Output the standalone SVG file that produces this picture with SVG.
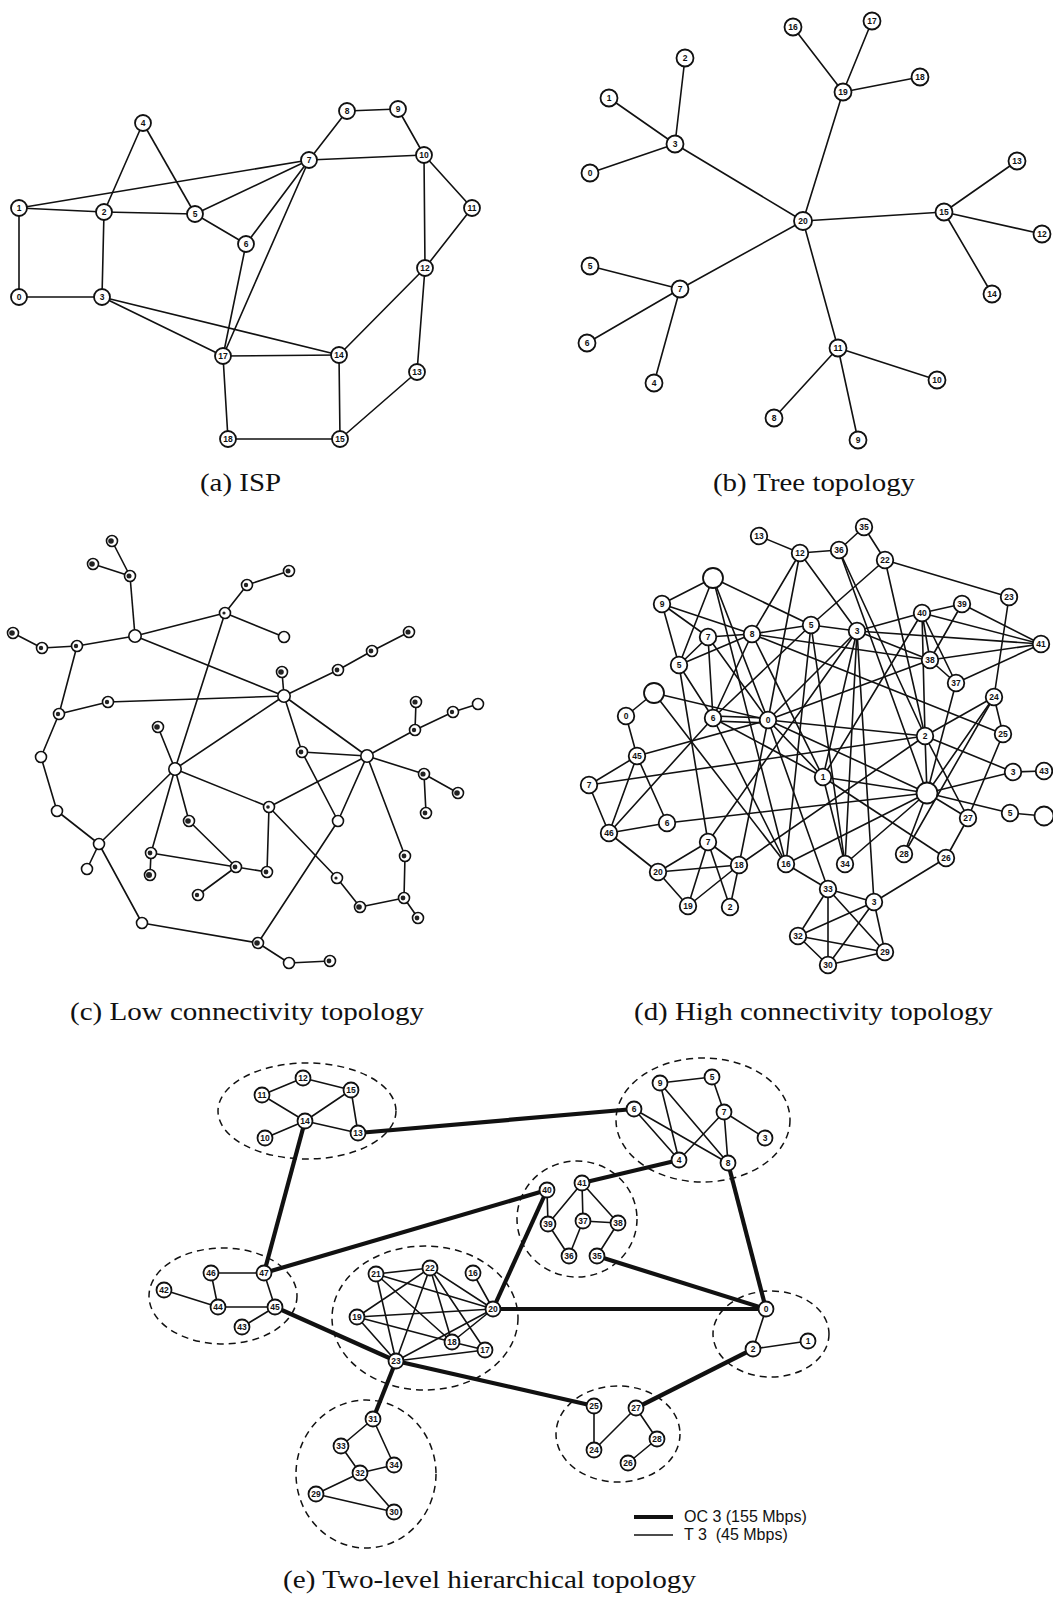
<svg xmlns="http://www.w3.org/2000/svg" width="1053" height="1597" viewBox="0 0 1053 1597">
<style>
  .bg { fill:#fff; }
  .e line { stroke:#111; stroke-width:1.6; stroke-linecap:round; }
  .E line { stroke:#111; stroke-width:4.2; stroke-linecap:butt; }
  .n circle { fill:#fff; stroke:#111; stroke-width:1.8; }
  .n text { font-family:"Liberation Sans", Arial, sans-serif; font-size:8.5px; font-weight:bold; text-anchor:middle; fill:#111; }
  .s circle { fill:#fff; stroke:#111; stroke-width:1.6; }
  .s circle.blot { fill:#222; stroke:none; }
  .grp { fill:none; stroke:#111; stroke-width:1.5; stroke-dasharray:7 5; }
  .cap { font-family:"Liberation Serif", "Times New Roman", serif; font-size:26px; fill:#111; }
  .leg { font-family:"Liberation Sans", Arial, sans-serif; font-size:16px; fill:#111; }
</style>
<rect class="bg" x="0" y="0" width="1053" height="1597"/>

<!-- ===== (a) ISP ===== -->
<g id="a-edges" class="e">
  <line x1="143" y1="123" x2="104" y2="212"/>
  <line x1="143" y1="123" x2="195" y2="214"/>
  <line x1="347" y1="111" x2="398" y2="109"/>
  <line x1="347" y1="111" x2="309" y2="160"/>
  <line x1="398" y1="109" x2="424" y2="155"/>
  <line x1="309" y1="160" x2="424" y2="155"/>
  <line x1="309" y1="160" x2="19" y2="208"/>
  <line x1="309" y1="160" x2="195" y2="214"/>
  <line x1="309" y1="160" x2="246" y2="244"/>
  <line x1="309" y1="160" x2="223" y2="356"/>
  <line x1="19" y1="208" x2="104" y2="212"/>
  <line x1="19" y1="208" x2="19" y2="297"/>
  <line x1="104" y1="212" x2="195" y2="214"/>
  <line x1="104" y1="212" x2="102" y2="297"/>
  <line x1="195" y1="214" x2="246" y2="244"/>
  <line x1="246" y1="244" x2="223" y2="356"/>
  <line x1="424" y1="155" x2="425" y2="268"/>
  <line x1="424" y1="155" x2="472" y2="208"/>
  <line x1="472" y1="208" x2="425" y2="268"/>
  <line x1="425" y1="268" x2="339" y2="355"/>
  <line x1="425" y1="268" x2="417" y2="372"/>
  <line x1="19" y1="297" x2="102" y2="297"/>
  <line x1="102" y1="297" x2="223" y2="356"/>
  <line x1="102" y1="297" x2="339" y2="355"/>
  <line x1="223" y1="356" x2="339" y2="355"/>
  <line x1="223" y1="356" x2="228" y2="439"/>
  <line x1="339" y1="355" x2="340" y2="439"/>
  <line x1="417" y1="372" x2="340" y2="439"/>
  <line x1="228" y1="439" x2="340" y2="439"/>
</g>
<g id="a-nodes">
  <g id="a0" class="n"><circle cx="19" cy="297" r="8"/><text x="19" y="300">0</text></g>
  <g id="a1" class="n"><circle cx="19" cy="208" r="8"/><text x="19" y="211">1</text></g>
  <g id="a2" class="n"><circle cx="104" cy="212" r="8"/><text x="104" y="215">2</text></g>
  <g id="a3" class="n"><circle cx="102" cy="297" r="8"/><text x="102" y="300">3</text></g>
  <g id="a4" class="n"><circle cx="143" cy="123" r="8"/><text x="143" y="126">4</text></g>
  <g id="a5" class="n"><circle cx="195" cy="214" r="8"/><text x="195" y="217">5</text></g>
  <g id="a6" class="n"><circle cx="246" cy="244" r="8"/><text x="246" y="247">6</text></g>
  <g id="a7" class="n"><circle cx="309" cy="160" r="8"/><text x="309" y="163">7</text></g>
  <g id="a8" class="n"><circle cx="347" cy="111" r="8"/><text x="347" y="114">8</text></g>
  <g id="a9" class="n"><circle cx="398" cy="109" r="8"/><text x="398" y="112">9</text></g>
  <g id="a10" class="n"><circle cx="424" cy="155" r="8"/><text x="424" y="158">10</text></g>
  <g id="a11" class="n"><circle cx="472" cy="208" r="8"/><text x="472" y="211">11</text></g>
  <g id="a12" class="n"><circle cx="425" cy="268" r="8"/><text x="425" y="271">12</text></g>
  <g id="a13" class="n"><circle cx="417" cy="372" r="8"/><text x="417" y="375">13</text></g>
  <g id="a14" class="n"><circle cx="339" cy="355" r="8"/><text x="339" y="358">14</text></g>
  <g id="a15" class="n"><circle cx="340" cy="439" r="8"/><text x="340" y="442">15</text></g>
  <g id="a17" class="n"><circle cx="223" cy="356" r="8"/><text x="223" y="359">17</text></g>
  <g id="a18" class="n"><circle cx="228" cy="439" r="8"/><text x="228" y="442">18</text></g>
</g>
<text class="cap" x="200" y="491" textLength="81" lengthAdjust="spacingAndGlyphs">(a) ISP</text>

<!-- ===== (b) Tree topology ===== -->
<g id="b-edges" class="e">
  <line x1="675" y1="144" x2="590" y2="173"/>
  <line x1="675" y1="144" x2="609" y2="98"/>
  <line x1="675" y1="144" x2="685" y2="58"/>
  <line x1="675" y1="144" x2="803" y2="221"/>
  <line x1="843" y1="92" x2="793" y2="27"/>
  <line x1="843" y1="92" x2="872" y2="21"/>
  <line x1="843" y1="92" x2="920" y2="77"/>
  <line x1="843" y1="92" x2="803" y2="221"/>
  <line x1="944" y1="212" x2="1017" y2="161"/>
  <line x1="944" y1="212" x2="1042" y2="234"/>
  <line x1="944" y1="212" x2="992" y2="294"/>
  <line x1="944" y1="212" x2="803" y2="221"/>
  <line x1="680" y1="289" x2="590" y2="266"/>
  <line x1="680" y1="289" x2="587" y2="343"/>
  <line x1="680" y1="289" x2="654" y2="383"/>
  <line x1="680" y1="289" x2="803" y2="221"/>
  <line x1="838" y1="348" x2="937" y2="380"/>
  <line x1="838" y1="348" x2="774" y2="418"/>
  <line x1="838" y1="348" x2="858" y2="440"/>
  <line x1="838" y1="348" x2="803" y2="221"/>
</g>
<g id="b-nodes">
  <g id="b0" class="n"><circle cx="590" cy="173" r="8.5"/><text x="590" y="176">0</text></g>
  <g id="b1" class="n"><circle cx="609" cy="98" r="8.5"/><text x="609" y="101">1</text></g>
  <g id="b2" class="n"><circle cx="685" cy="58" r="8.5"/><text x="685" y="61">2</text></g>
  <g id="b3" class="n"><circle cx="675" cy="144" r="8.5"/><text x="675" y="147">3</text></g>
  <g id="b4" class="n"><circle cx="654" cy="383" r="8.5"/><text x="654" y="386">4</text></g>
  <g id="b5" class="n"><circle cx="590" cy="266" r="8.5"/><text x="590" y="269">5</text></g>
  <g id="b6" class="n"><circle cx="587" cy="343" r="8.5"/><text x="587" y="346">6</text></g>
  <g id="b7" class="n"><circle cx="680" cy="289" r="8.5"/><text x="680" y="292">7</text></g>
  <g id="b8" class="n"><circle cx="774" cy="418" r="8.5"/><text x="774" y="421">8</text></g>
  <g id="b9" class="n"><circle cx="858" cy="440" r="8.5"/><text x="858" y="443">9</text></g>
  <g id="b10" class="n"><circle cx="937" cy="380" r="8.5"/><text x="937" y="383">10</text></g>
  <g id="b11" class="n"><circle cx="838" cy="348" r="8.5"/><text x="838" y="351">11</text></g>
  <g id="b12" class="n"><circle cx="1042" cy="234" r="8.5"/><text x="1042" y="237">12</text></g>
  <g id="b13" class="n"><circle cx="1017" cy="161" r="8.5"/><text x="1017" y="164">13</text></g>
  <g id="b14" class="n"><circle cx="992" cy="294" r="8.5"/><text x="992" y="297">14</text></g>
  <g id="b15" class="n"><circle cx="944" cy="212" r="8.5"/><text x="944" y="215">15</text></g>
  <g id="b16" class="n"><circle cx="793" cy="27" r="8.5"/><text x="793" y="30">16</text></g>
  <g id="b17" class="n"><circle cx="872" cy="21" r="8.5"/><text x="872" y="24">17</text></g>
  <g id="b18" class="n"><circle cx="920" cy="77" r="8.5"/><text x="920" y="80">18</text></g>
  <g id="b19" class="n"><circle cx="843" cy="92" r="8.5"/><text x="843" y="95">19</text></g>
  <g id="b20" class="n"><circle cx="803" cy="221" r="9"/><text x="803" y="224">20</text></g>
</g>
<text class="cap" x="713" y="491" textLength="202" lengthAdjust="spacingAndGlyphs">(b) Tree topology</text>

<!-- ===== (c) Low connectivity topology ===== -->
<g id="c-edges" class="e">
  <line x1="112" y1="541" x2="130" y2="576"/>
  <line x1="93" y1="564" x2="130" y2="576"/>
  <line x1="130" y1="576" x2="135" y2="636"/>
  <line x1="135" y1="636" x2="225" y2="613"/>
  <line x1="135" y1="636" x2="77" y2="646"/>
  <line x1="135" y1="636" x2="284" y2="696"/>
  <line x1="225" y1="613" x2="247" y2="585"/>
  <line x1="247" y1="585" x2="289" y2="571"/>
  <line x1="225" y1="613" x2="284" y2="637"/>
  <line x1="225" y1="613" x2="175" y2="769"/>
  <line x1="13" y1="633" x2="42" y2="648"/>
  <line x1="42" y1="648" x2="77" y2="646"/>
  <line x1="77" y1="646" x2="59" y2="714"/>
  <line x1="59" y1="714" x2="108" y2="702"/>
  <line x1="108" y1="702" x2="284" y2="696"/>
  <line x1="284" y1="696" x2="282" y2="672"/>
  <line x1="284" y1="696" x2="338" y2="670"/>
  <line x1="338" y1="670" x2="372" y2="651"/>
  <line x1="372" y1="651" x2="409" y2="632"/>
  <line x1="284" y1="696" x2="175" y2="769"/>
  <line x1="284" y1="696" x2="302" y2="752"/>
  <line x1="284" y1="696" x2="367" y2="756"/>
  <line x1="59" y1="714" x2="41" y2="757"/>
  <line x1="41" y1="757" x2="57" y2="811"/>
  <line x1="57" y1="811" x2="99" y2="844"/>
  <line x1="99" y1="844" x2="175" y2="769"/>
  <line x1="99" y1="844" x2="87" y2="869"/>
  <line x1="99" y1="844" x2="142" y2="923"/>
  <line x1="142" y1="923" x2="258" y2="943"/>
  <line x1="258" y1="943" x2="289" y2="963"/>
  <line x1="289" y1="963" x2="330" y2="961"/>
  <line x1="175" y1="769" x2="158" y2="727"/>
  <line x1="175" y1="769" x2="189" y2="821"/>
  <line x1="175" y1="769" x2="151" y2="853"/>
  <line x1="151" y1="853" x2="150" y2="875"/>
  <line x1="175" y1="769" x2="269" y2="807"/>
  <line x1="189" y1="821" x2="236" y2="867"/>
  <line x1="151" y1="853" x2="236" y2="867"/>
  <line x1="236" y1="867" x2="198" y2="895"/>
  <line x1="236" y1="867" x2="267" y2="872"/>
  <line x1="269" y1="807" x2="267" y2="872"/>
  <line x1="269" y1="807" x2="367" y2="756"/>
  <line x1="269" y1="807" x2="337" y2="878"/>
  <line x1="337" y1="878" x2="360" y2="907"/>
  <line x1="360" y1="907" x2="404" y2="898"/>
  <line x1="404" y1="898" x2="405" y2="856"/>
  <line x1="405" y1="856" x2="367" y2="756"/>
  <line x1="404" y1="898" x2="418" y2="918"/>
  <line x1="302" y1="752" x2="367" y2="756"/>
  <line x1="302" y1="752" x2="338" y2="821"/>
  <line x1="338" y1="821" x2="367" y2="756"/>
  <line x1="338" y1="821" x2="258" y2="943"/>
  <line x1="367" y1="756" x2="415" y2="730"/>
  <line x1="415" y1="730" x2="416" y2="702"/>
  <line x1="415" y1="730" x2="453" y2="712"/>
  <line x1="453" y1="712" x2="478" y2="704"/>
  <line x1="367" y1="756" x2="424" y2="774"/>
  <line x1="424" y1="774" x2="458" y2="793"/>
  <line x1="424" y1="774" x2="426" y2="813"/>
</g>
<g id="c-nodes">
  <g id="c1" class="s"><circle cx="112" cy="541" r="5.5"/><circle class="blot" cx="111" cy="541" r="2.8"/></g>
  <g id="c2" class="s"><circle cx="93" cy="564" r="5.5"/><circle class="blot" cx="92" cy="564" r="2.8"/></g>
  <g id="c3" class="s"><circle cx="130" cy="576" r="5.5"/><circle class="blot" cx="129" cy="576" r="2.5"/></g>
  <g id="c4" class="s"><circle cx="289" cy="571" r="5.5"/><circle class="blot" cx="288" cy="571" r="2.5"/></g>
  <g id="c5" class="s"><circle cx="247" cy="585" r="5.5"/><circle class="blot" cx="246" cy="585" r="2.2"/></g>
  <g id="c6" class="s"><circle cx="225" cy="613" r="5.5"/><circle class="blot" cx="224" cy="613" r="1.6"/></g>
  <g id="c7" class="s"><circle cx="135" cy="636" r="6.2"/></g>
  <g id="c8" class="s"><circle cx="284" cy="637" r="5.5"/></g>
  <g id="c9" class="s"><circle cx="13" cy="633" r="5.5"/><circle class="blot" cx="12" cy="633" r="2.8"/></g>
  <g id="c10" class="s"><circle cx="42" cy="648" r="5.5"/><circle class="blot" cx="41" cy="648" r="2.2"/></g>
  <g id="c11" class="s"><circle cx="77" cy="646" r="5.5"/><circle class="blot" cx="76" cy="646" r="2.2"/></g>
  <g id="c12" class="s"><circle cx="409" cy="632" r="5.5"/><circle class="blot" cx="408" cy="632" r="2.6"/></g>
  <g id="c13" class="s"><circle cx="372" cy="651" r="5.5"/><circle class="blot" cx="371" cy="651" r="2.4"/></g>
  <g id="c14" class="s"><circle cx="338" cy="670" r="5.5"/><circle class="blot" cx="337" cy="670" r="2.4"/></g>
  <g id="c15" class="s"><circle cx="282" cy="672" r="5.5"/><circle class="blot" cx="281" cy="672" r="2.8"/></g>
  <g id="c16" class="s"><circle cx="284" cy="696" r="6.2"/></g>
  <g id="c17" class="s"><circle cx="108" cy="702" r="5.5"/><circle class="blot" cx="107" cy="702" r="2.2"/></g>
  <g id="c18" class="s"><circle cx="59" cy="714" r="5.5"/><circle class="blot" cx="58" cy="714" r="2.2"/></g>
  <g id="c19" class="s"><circle cx="416" cy="702" r="5.5"/><circle class="blot" cx="415" cy="702" r="2.6"/></g>
  <g id="c20" class="s"><circle cx="478" cy="704" r="5.5"/></g>
  <g id="c21" class="s"><circle cx="453" cy="712" r="5.5"/><circle class="blot" cx="452" cy="712" r="2.2"/></g>
  <g id="c22" class="s"><circle cx="415" cy="730" r="5.5"/><circle class="blot" cx="414" cy="730" r="2.2"/></g>
  <g id="c23" class="s"><circle cx="158" cy="727" r="5.5"/><circle class="blot" cx="157" cy="727" r="2.8"/></g>
  <g id="c24" class="s"><circle cx="302" cy="752" r="5.5"/><circle class="blot" cx="301" cy="752" r="2.4"/></g>
  <g id="c25" class="s"><circle cx="367" cy="756" r="6.2"/></g>
  <g id="c26" class="s"><circle cx="41" cy="757" r="5.5"/></g>
  <g id="c27" class="s"><circle cx="175" cy="769" r="6.2"/></g>
  <g id="c28" class="s"><circle cx="424" cy="774" r="5.5"/><circle class="blot" cx="423" cy="774" r="2.6"/></g>
  <g id="c29" class="s"><circle cx="458" cy="793" r="5.5"/><circle class="blot" cx="457" cy="793" r="2.8"/></g>
  <g id="c30" class="s"><circle cx="269" cy="807" r="5.5"/><circle class="blot" cx="268" cy="807" r="1.8"/></g>
  <g id="c31" class="s"><circle cx="57" cy="811" r="5.5"/></g>
  <g id="c32" class="s"><circle cx="426" cy="813" r="5.5"/><circle class="blot" cx="425" cy="813" r="2.4"/></g>
  <g id="c33" class="s"><circle cx="338" cy="821" r="5.5"/></g>
  <g id="c34" class="s"><circle cx="189" cy="821" r="5.5"/><circle class="blot" cx="188" cy="821" r="2.8"/></g>
  <g id="c35" class="s"><circle cx="99" cy="844" r="5.5"/></g>
  <g id="c36" class="s"><circle cx="151" cy="853" r="5.5"/><circle class="blot" cx="150" cy="853" r="2.4"/></g>
  <g id="c37" class="s"><circle cx="405" cy="856" r="5.5"/><circle class="blot" cx="404" cy="856" r="2.4"/></g>
  <g id="c38" class="s"><circle cx="87" cy="869" r="5.5"/></g>
  <g id="c39" class="s"><circle cx="236" cy="867" r="5.5"/><circle class="blot" cx="235" cy="867" r="2.4"/></g>
  <g id="c40" class="s"><circle cx="267" cy="872" r="5.5"/><circle class="blot" cx="266" cy="872" r="2.4"/></g>
  <g id="c41" class="s"><circle cx="150" cy="875" r="5.5"/><circle class="blot" cx="149" cy="875" r="3"/></g>
  <g id="c42" class="s"><circle cx="337" cy="878" r="5.5"/><circle class="blot" cx="336" cy="878" r="1.6"/></g>
  <g id="c43" class="s"><circle cx="198" cy="895" r="5.5"/><circle class="blot" cx="197" cy="895" r="2.2"/></g>
  <g id="c44" class="s"><circle cx="404" cy="898" r="5.5"/><circle class="blot" cx="403" cy="898" r="2.4"/></g>
  <g id="c45" class="s"><circle cx="360" cy="907" r="5.5"/><circle class="blot" cx="359" cy="907" r="2.8"/></g>
  <g id="c46" class="s"><circle cx="418" cy="918" r="5.5"/><circle class="blot" cx="417" cy="918" r="2.4"/></g>
  <g id="c47" class="s"><circle cx="142" cy="923" r="5.5"/></g>
  <g id="c48" class="s"><circle cx="258" cy="943" r="5.5"/><circle class="blot" cx="257" cy="943" r="2.8"/></g>
  <g id="c49" class="s"><circle cx="289" cy="963" r="5.5"/></g>
  <g id="c50" class="s"><circle cx="330" cy="961" r="5.5"/><circle class="blot" cx="329" cy="961" r="2.4"/></g>
</g>
<text class="cap" x="70" y="1020" textLength="354" lengthAdjust="spacingAndGlyphs">(c) Low connectivity topology</text>

<!-- ===== (d) High connectivity topology ===== -->
<g id="d-edges" class="e">
  <line x1="759" y1="536" x2="800" y2="553"/>
  <line x1="800" y1="553" x2="839" y2="550"/>
  <line x1="839" y1="550" x2="864" y2="527"/>
  <line x1="864" y1="527" x2="885" y2="560"/>
  <line x1="800" y1="553" x2="752" y2="634"/>
  <line x1="800" y1="553" x2="768" y2="720"/>
  <line x1="800" y1="553" x2="857" y2="631"/>
  <line x1="839" y1="550" x2="925" y2="736"/>
  <line x1="839" y1="550" x2="927" y2="793"/>
  <line x1="885" y1="560" x2="811" y2="625"/>
  <line x1="885" y1="560" x2="1009" y2="597"/>
  <line x1="885" y1="560" x2="925" y2="736"/>
  <line x1="713" y1="578" x2="662" y2="604"/>
  <line x1="713" y1="578" x2="811" y2="625"/>
  <line x1="713" y1="578" x2="679" y2="665"/>
  <line x1="713" y1="578" x2="768" y2="720"/>
  <line x1="713" y1="578" x2="786" y2="864"/>
  <line x1="662" y1="604" x2="679" y2="665"/>
  <line x1="662" y1="604" x2="752" y2="634"/>
  <line x1="662" y1="604" x2="708" y2="637"/>
  <line x1="708" y1="637" x2="752" y2="634"/>
  <line x1="679" y1="665" x2="752" y2="634"/>
  <line x1="679" y1="665" x2="708" y2="637"/>
  <line x1="752" y1="634" x2="811" y2="625"/>
  <line x1="811" y1="625" x2="857" y2="631"/>
  <line x1="752" y1="634" x2="930" y2="660"/>
  <line x1="752" y1="634" x2="1003" y2="734"/>
  <line x1="752" y1="634" x2="713" y2="718"/>
  <line x1="752" y1="634" x2="823" y2="777"/>
  <line x1="857" y1="631" x2="922" y2="613"/>
  <line x1="857" y1="631" x2="1041" y2="644"/>
  <line x1="857" y1="631" x2="930" y2="660"/>
  <line x1="922" y1="613" x2="962" y2="604"/>
  <line x1="922" y1="613" x2="1041" y2="644"/>
  <line x1="962" y1="604" x2="1041" y2="644"/>
  <line x1="922" y1="613" x2="930" y2="660"/>
  <line x1="922" y1="613" x2="956" y2="683"/>
  <line x1="962" y1="604" x2="930" y2="660"/>
  <line x1="930" y1="660" x2="1041" y2="644"/>
  <line x1="956" y1="683" x2="1041" y2="644"/>
  <line x1="930" y1="660" x2="956" y2="683"/>
  <line x1="922" y1="613" x2="823" y2="777"/>
  <line x1="922" y1="613" x2="925" y2="736"/>
  <line x1="930" y1="660" x2="768" y2="720"/>
  <line x1="1009" y1="597" x2="994" y2="697"/>
  <line x1="994" y1="697" x2="1003" y2="734"/>
  <line x1="994" y1="697" x2="925" y2="736"/>
  <line x1="994" y1="697" x2="927" y2="793"/>
  <line x1="994" y1="697" x2="904" y2="854"/>
  <line x1="956" y1="683" x2="927" y2="793"/>
  <line x1="626" y1="716" x2="654" y2="693"/>
  <line x1="654" y1="693" x2="768" y2="720"/>
  <line x1="654" y1="693" x2="786" y2="864"/>
  <line x1="679" y1="665" x2="708" y2="842"/>
  <line x1="679" y1="665" x2="713" y2="718"/>
  <line x1="708" y1="637" x2="713" y2="718"/>
  <line x1="708" y1="637" x2="768" y2="720"/>
  <line x1="713" y1="716" x2="768" y2="718"/>
  <line x1="713" y1="721" x2="768" y2="723"/>
  <line x1="713" y1="718" x2="811" y2="625"/>
  <line x1="768" y1="720" x2="857" y2="631"/>
  <line x1="768" y1="720" x2="925" y2="736"/>
  <line x1="768" y1="720" x2="823" y2="777"/>
  <line x1="626" y1="716" x2="637" y2="756"/>
  <line x1="637" y1="756" x2="589" y2="785"/>
  <line x1="637" y1="756" x2="609" y2="833"/>
  <line x1="637" y1="756" x2="667" y2="823"/>
  <line x1="637" y1="756" x2="768" y2="720"/>
  <line x1="589" y1="785" x2="609" y2="833"/>
  <line x1="589" y1="785" x2="925" y2="736"/>
  <line x1="609" y1="833" x2="667" y2="823"/>
  <line x1="609" y1="833" x2="658" y2="872"/>
  <line x1="609" y1="833" x2="713" y2="718"/>
  <line x1="667" y1="823" x2="927" y2="793"/>
  <line x1="708" y1="842" x2="658" y2="872"/>
  <line x1="708" y1="842" x2="739" y2="865"/>
  <line x1="708" y1="842" x2="688" y2="906"/>
  <line x1="708" y1="842" x2="730" y2="907"/>
  <line x1="708" y1="842" x2="857" y2="631"/>
  <line x1="658" y1="872" x2="739" y2="865"/>
  <line x1="658" y1="872" x2="688" y2="906"/>
  <line x1="739" y1="865" x2="688" y2="906"/>
  <line x1="739" y1="865" x2="730" y2="907"/>
  <line x1="739" y1="865" x2="925" y2="736"/>
  <line x1="739" y1="865" x2="768" y2="720"/>
  <line x1="786" y1="864" x2="828" y2="889"/>
  <line x1="786" y1="864" x2="927" y2="793"/>
  <line x1="786" y1="864" x2="811" y2="625"/>
  <line x1="828" y1="889" x2="874" y2="902"/>
  <line x1="828" y1="889" x2="798" y2="936"/>
  <line x1="828" y1="889" x2="828" y2="965"/>
  <line x1="828" y1="889" x2="885" y2="952"/>
  <line x1="828" y1="889" x2="768" y2="720"/>
  <line x1="874" y1="902" x2="798" y2="936"/>
  <line x1="874" y1="902" x2="828" y2="965"/>
  <line x1="874" y1="902" x2="885" y2="952"/>
  <line x1="874" y1="902" x2="946" y2="858"/>
  <line x1="874" y1="902" x2="857" y2="631"/>
  <line x1="798" y1="936" x2="885" y2="952"/>
  <line x1="798" y1="936" x2="828" y2="965"/>
  <line x1="828" y1="965" x2="885" y2="952"/>
  <line x1="845" y1="864" x2="823" y2="777"/>
  <line x1="845" y1="864" x2="857" y2="631"/>
  <line x1="845" y1="864" x2="927" y2="793"/>
  <line x1="823" y1="777" x2="927" y2="793"/>
  <line x1="823" y1="777" x2="946" y2="858"/>
  <line x1="904" y1="854" x2="927" y2="793"/>
  <line x1="946" y1="858" x2="968" y2="818"/>
  <line x1="968" y1="818" x2="927" y2="793"/>
  <line x1="968" y1="818" x2="1003" y2="734"/>
  <line x1="968" y1="818" x2="925" y2="736"/>
  <line x1="927" y1="793" x2="1013" y2="772"/>
  <line x1="927" y1="793" x2="1010" y2="813"/>
  <line x1="927" y1="793" x2="925" y2="736"/>
  <line x1="927" y1="793" x2="768" y2="720"/>
  <line x1="1013" y1="772" x2="1044" y2="771"/>
  <line x1="1010" y1="813" x2="1044" y2="816"/>
  <line x1="925" y1="736" x2="1013" y2="772"/>
  <line x1="713" y1="718" x2="823" y2="777"/>
  <line x1="713" y1="718" x2="786" y2="864"/>
  <line x1="811" y1="625" x2="845" y2="864"/>
  <line x1="857" y1="631" x2="823" y2="777"/>
</g>
<g id="d-nodes">
  <g id="d13" class="n"><circle cx="759" cy="536" r="8.3"/><text x="759" y="539">13</text></g>
  <g id="d12" class="n"><circle cx="800" cy="553" r="8.3"/><text x="800" y="556">12</text></g>
  <g id="d36" class="n"><circle cx="839" cy="550" r="8.3"/><text x="839" y="553">36</text></g>
  <g id="d35" class="n"><circle cx="864" cy="527" r="8.3"/><text x="864" y="530">35</text></g>
  <g id="d22" class="n"><circle cx="885" cy="560" r="8.3"/><text x="885" y="563">22</text></g>
  <g id="d-u1" class="n"><circle cx="713" cy="578" r="10"/></g>
  <g id="d9" class="n"><circle cx="662" cy="604" r="8.3"/><text x="662" y="607">9</text></g>
  <g id="d23" class="n"><circle cx="1009" cy="597" r="8.3"/><text x="1009" y="600">23</text></g>
  <g id="d40" class="n"><circle cx="922" cy="613" r="8.3"/><text x="922" y="616">40</text></g>
  <g id="d39" class="n"><circle cx="962" cy="604" r="8.3"/><text x="962" y="607">39</text></g>
  <g id="d5a" class="n"><circle cx="811" cy="625" r="8.3"/><text x="811" y="628">5</text></g>
  <g id="d3a" class="n"><circle cx="857" cy="631" r="8.3"/><text x="857" y="634">3</text></g>
  <g id="d7a" class="n"><circle cx="708" cy="637" r="8.3"/><text x="708" y="640">7</text></g>
  <g id="d8" class="n"><circle cx="752" cy="634" r="8.3"/><text x="752" y="637">8</text></g>
  <g id="d41" class="n"><circle cx="1041" cy="644" r="8.3"/><text x="1041" y="647">41</text></g>
  <g id="d38" class="n"><circle cx="930" cy="660" r="8.3"/><text x="930" y="663">38</text></g>
  <g id="d5b" class="n"><circle cx="679" cy="665" r="8.3"/><text x="679" y="668">5</text></g>
  <g id="d37" class="n"><circle cx="956" cy="683" r="8.3"/><text x="956" y="686">37</text></g>
  <g id="d24" class="n"><circle cx="994" cy="697" r="8.3"/><text x="994" y="700">24</text></g>
  <g id="d-u2" class="n"><circle cx="654" cy="693" r="10"/></g>
  <g id="d0a" class="n"><circle cx="626" cy="716" r="8.3"/><text x="626" y="719">0</text></g>
  <g id="d6a" class="n"><circle cx="713" cy="718" r="8.3"/><text x="713" y="721">6</text></g>
  <g id="d0b" class="n"><circle cx="768" cy="720" r="8.3"/><text x="768" y="723">0</text></g>
  <g id="d2a" class="n"><circle cx="925" cy="736" r="8.3"/><text x="925" y="739">2</text></g>
  <g id="d25" class="n"><circle cx="1003" cy="734" r="8.3"/><text x="1003" y="737">25</text></g>
  <g id="d45" class="n"><circle cx="637" cy="756" r="8.3"/><text x="637" y="759">45</text></g>
  <g id="d3b" class="n"><circle cx="1013" cy="772" r="8.3"/><text x="1013" y="775">3</text></g>
  <g id="d43" class="n"><circle cx="1044" cy="771" r="8.3"/><text x="1044" y="774">43</text></g>
  <g id="d1" class="n"><circle cx="823" cy="777" r="8.3"/><text x="823" y="780">1</text></g>
  <g id="d7b" class="n"><circle cx="589" cy="785" r="8.3"/><text x="589" y="788">7</text></g>
  <g id="d-u3" class="n"><circle cx="927" cy="793" r="10.5"/></g>
  <g id="d5c" class="n"><circle cx="1010" cy="813" r="8.3"/><text x="1010" y="816">5</text></g>
  <g id="d-u4" class="n"><circle cx="1044" cy="816" r="9.5"/></g>
  <g id="d27" class="n"><circle cx="968" cy="818" r="8.3"/><text x="968" y="821">27</text></g>
  <g id="d6b" class="n"><circle cx="667" cy="823" r="8.3"/><text x="667" y="826">6</text></g>
  <g id="d46" class="n"><circle cx="609" cy="833" r="8.3"/><text x="609" y="836">46</text></g>
  <g id="d7c" class="n"><circle cx="708" cy="842" r="8.3"/><text x="708" y="845">7</text></g>
  <g id="d28" class="n"><circle cx="904" cy="854" r="8.3"/><text x="904" y="857">28</text></g>
  <g id="d26" class="n"><circle cx="946" cy="858" r="8.3"/><text x="946" y="861">26</text></g>
  <g id="d34" class="n"><circle cx="845" cy="864" r="8.3"/><text x="845" y="867">34</text></g>
  <g id="d18" class="n"><circle cx="739" cy="865" r="8.3"/><text x="739" y="868">18</text></g>
  <g id="d16" class="n"><circle cx="786" cy="864" r="8.3"/><text x="786" y="867">16</text></g>
  <g id="d20" class="n"><circle cx="658" cy="872" r="8.3"/><text x="658" y="875">20</text></g>
  <g id="d33" class="n"><circle cx="828" cy="889" r="8.3"/><text x="828" y="892">33</text></g>
  <g id="d3c" class="n"><circle cx="874" cy="902" r="8.3"/><text x="874" y="905">3</text></g>
  <g id="d19" class="n"><circle cx="688" cy="906" r="8.3"/><text x="688" y="909">19</text></g>
  <g id="d2b" class="n"><circle cx="730" cy="907" r="8.3"/><text x="730" y="910">2</text></g>
  <g id="d32" class="n"><circle cx="798" cy="936" r="8.3"/><text x="798" y="939">32</text></g>
  <g id="d29" class="n"><circle cx="885" cy="952" r="8.3"/><text x="885" y="955">29</text></g>
  <g id="d30" class="n"><circle cx="828" cy="965" r="8.3"/><text x="828" y="968">30</text></g>
</g>
<text class="cap" x="634" y="1020" textLength="359" lengthAdjust="spacingAndGlyphs">(d) High connectivity topology</text>

<!-- ===== (e) Two-level hierarchical topology ===== -->
<g id="e-domains">
  <ellipse class="grp" cx="307" cy="1111" rx="89" ry="48"/>
  <ellipse class="grp" cx="223" cy="1296" rx="74" ry="48"/>
  <ellipse class="grp" cx="425" cy="1318" rx="93" ry="72"/>
  <ellipse class="grp" cx="577" cy="1219" rx="60" ry="58"/>
  <ellipse class="grp" cx="703" cy="1120" rx="87" ry="62"/>
  <ellipse class="grp" cx="771" cy="1334" rx="58" ry="43"/>
  <ellipse class="grp" cx="618" cy="1434" rx="62" ry="48"/>
  <ellipse class="grp" cx="366" cy="1474" rx="70" ry="74"/>
</g>
<g id="e-edges">
  <g class="e">
    <line x1="262" y1="1095" x2="303" y2="1078"/>
    <line x1="303" y1="1078" x2="351" y2="1090"/>
    <line x1="262" y1="1095" x2="305" y2="1121"/>
    <line x1="351" y1="1090" x2="305" y2="1121"/>
    <line x1="351" y1="1090" x2="358" y2="1133"/>
    <line x1="305" y1="1121" x2="265" y2="1138"/>
    <line x1="305" y1="1121" x2="358" y2="1133"/>
    <line x1="211" y1="1273" x2="264" y2="1273"/>
    <line x1="211" y1="1273" x2="218" y2="1307"/>
    <line x1="264" y1="1273" x2="275" y2="1307"/>
    <line x1="164" y1="1290" x2="218" y2="1307"/>
    <line x1="218" y1="1307" x2="275" y2="1307"/>
    <line x1="275" y1="1307" x2="242" y2="1327"/>
    <line x1="376" y1="1274" x2="430" y2="1268"/>
    <line x1="376" y1="1274" x2="493" y2="1309"/>
    <line x1="376" y1="1274" x2="452" y2="1342"/>
    <line x1="376" y1="1274" x2="396" y2="1361"/>
    <line x1="430" y1="1268" x2="357" y2="1317"/>
    <line x1="430" y1="1268" x2="493" y2="1309"/>
    <line x1="430" y1="1268" x2="396" y2="1361"/>
    <line x1="430" y1="1268" x2="452" y2="1342"/>
    <line x1="430" y1="1268" x2="485" y2="1350"/>
    <line x1="473" y1="1273" x2="493" y2="1309"/>
    <line x1="357" y1="1317" x2="493" y2="1309"/>
    <line x1="357" y1="1317" x2="452" y2="1342"/>
    <line x1="357" y1="1317" x2="396" y2="1361"/>
    <line x1="493" y1="1309" x2="452" y2="1342"/>
    <line x1="493" y1="1309" x2="396" y2="1361"/>
    <line x1="452" y1="1342" x2="485" y2="1350"/>
    <line x1="485" y1="1350" x2="396" y2="1361"/>
    <line x1="547" y1="1190" x2="548" y2="1224"/>
    <line x1="582" y1="1183" x2="548" y2="1224"/>
    <line x1="582" y1="1183" x2="583" y2="1221"/>
    <line x1="582" y1="1183" x2="618" y2="1223"/>
    <line x1="583" y1="1221" x2="618" y2="1223"/>
    <line x1="548" y1="1224" x2="569" y2="1256"/>
    <line x1="583" y1="1221" x2="569" y2="1256"/>
    <line x1="618" y1="1223" x2="597" y2="1256"/>
    <line x1="660" y1="1083" x2="712" y2="1077"/>
    <line x1="712" y1="1077" x2="724" y2="1112"/>
    <line x1="660" y1="1083" x2="679" y2="1160"/>
    <line x1="660" y1="1083" x2="728" y2="1163"/>
    <line x1="634" y1="1109" x2="679" y2="1160"/>
    <line x1="634" y1="1109" x2="728" y2="1163"/>
    <line x1="724" y1="1112" x2="679" y2="1160"/>
    <line x1="724" y1="1112" x2="728" y2="1163"/>
    <line x1="724" y1="1112" x2="765" y2="1138"/>
    <line x1="766" y1="1309" x2="753" y2="1349"/>
    <line x1="753" y1="1349" x2="808" y2="1341"/>
    <line x1="594" y1="1406" x2="594" y2="1450"/>
    <line x1="636" y1="1408" x2="594" y2="1450"/>
    <line x1="636" y1="1408" x2="657" y2="1439"/>
    <line x1="657" y1="1439" x2="628" y2="1463"/>
    <line x1="373" y1="1419" x2="341" y2="1446"/>
    <line x1="373" y1="1419" x2="394" y2="1465"/>
    <line x1="341" y1="1446" x2="360" y2="1473"/>
    <line x1="360" y1="1473" x2="394" y2="1465"/>
    <line x1="360" y1="1473" x2="316" y2="1494"/>
    <line x1="360" y1="1473" x2="394" y2="1512"/>
    <line x1="316" y1="1494" x2="394" y2="1512"/>
  </g>
  <g class="E">
    <line x1="358" y1="1133" x2="634" y2="1109"/>
    <line x1="305" y1="1121" x2="264" y2="1273"/>
    <line x1="264" y1="1273" x2="547" y2="1190"/>
    <line x1="275" y1="1307" x2="396" y2="1361"/>
    <line x1="547" y1="1190" x2="493" y2="1309"/>
    <line x1="679" y1="1160" x2="582" y2="1183"/>
    <line x1="728" y1="1163" x2="766" y2="1309"/>
    <line x1="597" y1="1256" x2="766" y2="1309"/>
    <line x1="493" y1="1309" x2="766" y2="1309"/>
    <line x1="396" y1="1361" x2="594" y2="1406"/>
    <line x1="396" y1="1361" x2="373" y2="1419"/>
    <line x1="753" y1="1349" x2="636" y2="1408"/>
  </g>
</g>
<g id="e-nodes">
  <g id="e10" class="n"><circle cx="265" cy="1138" r="7.5"/><text x="265" y="1141">10</text></g>
  <g id="e11" class="n"><circle cx="262" cy="1095" r="7.5"/><text x="262" y="1098">11</text></g>
  <g id="e12" class="n"><circle cx="303" cy="1078" r="7.5"/><text x="303" y="1081">12</text></g>
  <g id="e13" class="n"><circle cx="358" cy="1133" r="7.5"/><text x="358" y="1136">13</text></g>
  <g id="e14" class="n"><circle cx="305" cy="1121" r="7.5"/><text x="305" y="1124">14</text></g>
  <g id="e15" class="n"><circle cx="351" cy="1090" r="7.5"/><text x="351" y="1093">15</text></g>
  <g id="e42" class="n"><circle cx="164" cy="1290" r="7.5"/><text x="164" y="1293">42</text></g>
  <g id="e43" class="n"><circle cx="242" cy="1327" r="7.5"/><text x="242" y="1330">43</text></g>
  <g id="e44" class="n"><circle cx="218" cy="1307" r="7.5"/><text x="218" y="1310">44</text></g>
  <g id="e45" class="n"><circle cx="275" cy="1307" r="7.5"/><text x="275" y="1310">45</text></g>
  <g id="e46" class="n"><circle cx="211" cy="1273" r="7.5"/><text x="211" y="1276">46</text></g>
  <g id="e47" class="n"><circle cx="264" cy="1273" r="7.5"/><text x="264" y="1276">47</text></g>
  <g id="e16" class="n"><circle cx="473" cy="1273" r="7.5"/><text x="473" y="1276">16</text></g>
  <g id="e17" class="n"><circle cx="485" cy="1350" r="7.5"/><text x="485" y="1353">17</text></g>
  <g id="e18" class="n"><circle cx="452" cy="1342" r="7.5"/><text x="452" y="1345">18</text></g>
  <g id="e19" class="n"><circle cx="357" cy="1317" r="7.5"/><text x="357" y="1320">19</text></g>
  <g id="e20" class="n"><circle cx="493" cy="1309" r="7.5"/><text x="493" y="1312">20</text></g>
  <g id="e21" class="n"><circle cx="376" cy="1274" r="7.5"/><text x="376" y="1277">21</text></g>
  <g id="e22" class="n"><circle cx="430" cy="1268" r="7.5"/><text x="430" y="1271">22</text></g>
  <g id="e23" class="n"><circle cx="396" cy="1361" r="7.5"/><text x="396" y="1364">23</text></g>
  <g id="e35" class="n"><circle cx="597" cy="1256" r="7.5"/><text x="597" y="1259">35</text></g>
  <g id="e36" class="n"><circle cx="569" cy="1256" r="7.5"/><text x="569" y="1259">36</text></g>
  <g id="e37" class="n"><circle cx="583" cy="1221" r="7.5"/><text x="583" y="1224">37</text></g>
  <g id="e38" class="n"><circle cx="618" cy="1223" r="7.5"/><text x="618" y="1226">38</text></g>
  <g id="e39" class="n"><circle cx="548" cy="1224" r="7.5"/><text x="548" y="1227">39</text></g>
  <g id="e40" class="n"><circle cx="547" cy="1190" r="7.5"/><text x="547" y="1193">40</text></g>
  <g id="e41" class="n"><circle cx="582" cy="1183" r="7.5"/><text x="582" y="1186">41</text></g>
  <g id="e3" class="n"><circle cx="765" cy="1138" r="7.5"/><text x="765" y="1141">3</text></g>
  <g id="e4" class="n"><circle cx="679" cy="1160" r="7.5"/><text x="679" y="1163">4</text></g>
  <g id="e5" class="n"><circle cx="712" cy="1077" r="7.5"/><text x="712" y="1080">5</text></g>
  <g id="e6" class="n"><circle cx="634" cy="1109" r="7.5"/><text x="634" y="1112">6</text></g>
  <g id="e7" class="n"><circle cx="724" cy="1112" r="7.5"/><text x="724" y="1115">7</text></g>
  <g id="e8" class="n"><circle cx="728" cy="1163" r="7.5"/><text x="728" y="1166">8</text></g>
  <g id="e9" class="n"><circle cx="660" cy="1083" r="7.5"/><text x="660" y="1086">9</text></g>
  <g id="e0" class="n"><circle cx="766" cy="1309" r="7.5"/><text x="766" y="1312">0</text></g>
  <g id="e1" class="n"><circle cx="808" cy="1341" r="7.5"/><text x="808" y="1344">1</text></g>
  <g id="e2" class="n"><circle cx="753" cy="1349" r="7.5"/><text x="753" y="1352">2</text></g>
  <g id="e24" class="n"><circle cx="594" cy="1450" r="7.5"/><text x="594" y="1453">24</text></g>
  <g id="e25" class="n"><circle cx="594" cy="1406" r="7.5"/><text x="594" y="1409">25</text></g>
  <g id="e26" class="n"><circle cx="628" cy="1463" r="7.5"/><text x="628" y="1466">26</text></g>
  <g id="e27" class="n"><circle cx="636" cy="1408" r="7.5"/><text x="636" y="1411">27</text></g>
  <g id="e28" class="n"><circle cx="657" cy="1439" r="7.5"/><text x="657" y="1442">28</text></g>
  <g id="e29" class="n"><circle cx="316" cy="1494" r="7.5"/><text x="316" y="1497">29</text></g>
  <g id="e30" class="n"><circle cx="394" cy="1512" r="7.5"/><text x="394" y="1515">30</text></g>
  <g id="e31" class="n"><circle cx="373" cy="1419" r="7.5"/><text x="373" y="1422">31</text></g>
  <g id="e32" class="n"><circle cx="360" cy="1473" r="7.5"/><text x="360" y="1476">32</text></g>
  <g id="e33" class="n"><circle cx="341" cy="1446" r="7.5"/><text x="341" y="1449">33</text></g>
  <g id="e34" class="n"><circle cx="394" cy="1465" r="7.5"/><text x="394" y="1468">34</text></g>
</g>
<g id="e-legend">
  <line x1="634" y1="1517" x2="673" y2="1517" stroke="#111" stroke-width="4.2"/>
  <line x1="634" y1="1535" x2="673" y2="1535" stroke="#111" stroke-width="1.6"/>
  <text class="leg" x="684" y="1522">OC 3 (155 Mbps)</text>
  <text class="leg" x="684" y="1540" xml:space="preserve">T 3  (45 Mbps)</text>
</g>
<text class="cap" x="283" y="1588" textLength="413" lengthAdjust="spacingAndGlyphs">(e) Two-level hierarchical topology</text>
</svg>
